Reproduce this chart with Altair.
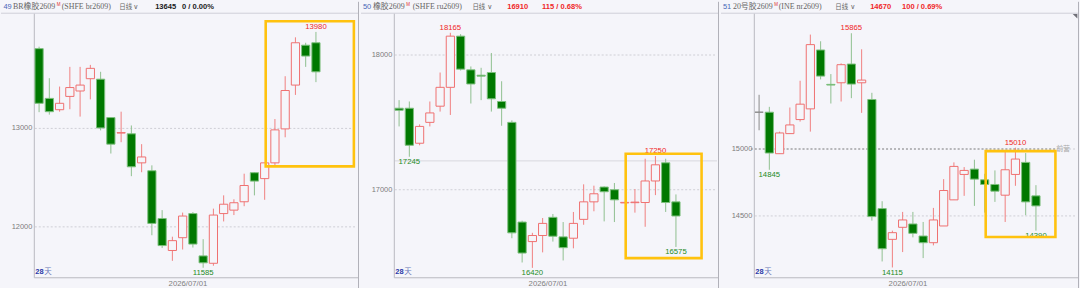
import altair as alt
import pandas as pd

# ---------------- data ----------------
# Panel 1: BR橡胶2609
p1_open  = [13810,13305,13190,13325,13380,13505,13500,13110,12953,12945,12650,12570,12085,11760,
            11890,12135,11705,11630,12135,12170,12255,12550,12490,12650,12995,13440,13845,13870]
p1_high  = [13830,13510,13425,13625,13625,13645,13575,13110,13170,13030,12840,12625,12170,11900,
            12145,12150,11875,12185,12320,12280,12540,12555,12650,13095,13530,13925,13870,13980]
p1_low   = [13165,13140,13170,13195,13120,13295,12980,12745,12860,12515,12555,11915,11785,11655,
            11770,11790,11585,11605,12055,12120,12210,12320,12275,12615,12910,13340,13625,13470]
p1_close = [13255,13170,13255,13415,13440,13610,13005,12840,12957,12610,12710,12035,11810,11860,
            12110,11825,11635,12120,12230,12245,12420,12465,12650,12985,13385,13870,13735,13575]

# Panel 2: 橡胶2609
p2_open  = [17605,17605,17345,17500,17620,17760,18140,17890,17850,17870,17655,17500,16760,16615,
            16660,16795,16650,16640,16780,16910,17020,17000,16902,16904,16905,17065,17200,16910]
p2_high  = [17665,17655,17485,17655,17870,18165,18155,17915,17905,18015,17805,17515,16770,16680,
            16790,16820,16760,16835,17040,17030,17025,17050,16910,17005,17230,17250,17230,16965]
p2_low   = [17470,17245,17330,17470,17580,17555,17885,17640,17665,17580,17475,16640,16460,16420,
            16535,16615,16475,16565,16740,16840,16765,16760,16900,16830,16725,16960,16835,16575]
p2_close = [17590,17330,17470,17570,17760,18140,17895,17785,17843,17675,17605,16680,16530,16660,
            16750,16655,16570,16750,16910,16970,16985,16925,16906,16908,17065,17185,16905,16805]

# Panel 3: 20号胶2609
p3_open  = [15275,15275,14965,15115,15220,15300,15740,15483,15495,15635,15495,15370,14555,14325,
            14415,14440,14350,14300,14425,14620,14810,14850,14770,14735,14655,14810,14900,14650]
p3_high  = [15405,15315,15130,15310,15510,15855,15805,15560,15640,15865,15745,15420,14610,14390,
            14530,14530,14455,14560,14775,14900,14865,14920,14815,14840,14985,15010,14970,14730]
p3_low   = [15140,14845,14965,15115,15205,15130,15520,15340,15355,15380,15270,14465,14160,14115,
            14230,14340,14185,14280,14425,14620,14650,14575,14525,14605,14455,14725,14505,14390]
p3_close = [15275,14970,15120,15180,15335,15780,15545,15478,15630,15485,15515,14495,14255,14375,
            14470,14370,14300,14470,14690,14870,14840,14775,14735,14685,14845,14925,14605,14575]
p3_flat = [0]  # index of the grey (no-trade) candle

# extreme-value labels: (index, value)
p1_hi_lbl = [(27, 13980)]
p1_lo_lbl = [(16, 11585)]
p2_hi_lbl = [(5, 18165), (25, 17250)]
p2_lo_lbl = [(1, 17245), (13, 16420), (27, 16575)]
p3_hi_lbl = [(9, 15865), (25, 15010)]
p3_lo_lbl = [(1, 14845), (13, 14115), (27, 14390)]

# grid values
p1_grid = [13000, 12000]
p2_grid = [18000, 17000]
p3_grid = [15000, 14500]
p2_ref = [17214]
p3_ref = [15000]

# highlight boxes: (x0, x1, y0, y1) in candle-index / price units
p1_box = (22.1, 30.7, 14089, 12614)
p2_box = (22.1, 29.5, 17267, 16492)
p3_box = (22.1, 28.9, 14984, 14342)

# y domains (price at bottom / top of panel)
p1_ydom = [11377, 14286]
p2_ydom = [16269, 18395]
p3_ydom = [13960, 16100]
X_DOM = [-3.715, 31.2]

headers = [
    dict(num="49", name="BR橡胶2609", code="(SHFE br2609)", price="13645", chg="0 / 0.00%", up=False,
         xs=dict(num=2.5, name=12, m=56, code=61, day=119, chev=133, price=155, chg=182)),
    dict(num="50", name="橡胶2609", code="(SHFE ru2609)", price="16910", chg="115 / 0.68%", up=True,
         xs=dict(num=2, name=12, m=45.5, code=52, day=112, chev=127, price=147, chg=182)),
    dict(num="51", name="20号胶2609", code="(INE nr2609)", price="14670", chg="100 / 0.69%", up=True,
         xs=dict(num=2, name=12, m=53.5, code=58, day=115, chev=130, price=150, chg=182)),
]

# ---------------- style ----------------
BG = "#F5F5FA"
UP = "#EF7070"
UP_WICK = "#F08080"
DN_FILL = "#007800"
DN_EDGE = "#7DBF7D"
DN_WICK = "#8FBF8F"
GREY = "#8A8A8A"
RED_TXT = "#F02828"
GRN_TXT = "#1E8C1E"
AXIS = "#B8B8C0"
W, H = 360, 288
SANS = "Liberation Sans, Noto Sans CJK SC"
SERIF = "Liberation Serif, Noto Sans CJK SC"

one = pd.DataFrame({"a": [0]})


def txt(s, x, y, color, size=7.5, weight="normal", font=SANS, align="left"):
    return alt.Chart(pd.DataFrame({"t": [s]})).mark_text(
        align=align, baseline="middle", fontSize=size, fontWeight=weight, font=font, color=color
    ).encode(x=alt.value(x), y=alt.value(y), text="t:N")


def vrule(x, y0, y1, color):
    return alt.Chart(one).mark_rule(color=color, strokeWidth=1).encode(
        x=alt.value(x), y=alt.value(y0), y2=alt.value(y1))


def hrule(y, x0, x1, color):
    return alt.Chart(one).mark_rule(color=color, strokeWidth=1).encode(
        y=alt.value(y), x=alt.value(x0), x2=alt.value(x1))


def pick_expr(up, down, flat):
    return f"datum.f == 1 ? '{flat}' : (datum.c >= datum.o ? '{up}' : '{down}')"


def panel(o, h, l, c, ydom, grid, hi, lo, box, hdr, ref=None, ref_dark=False, flat=(), corner=False):
    df = pd.DataFrame({"i": list(range(len(o))), "o": o, "h": h, "l": l, "c": c})
    df["f"] = [1 if k in flat else 0 for k in range(len(o))]
    xs = alt.Scale(domain=X_DOM, nice=False, zero=False)
    ys = alt.Scale(domain=ydom, nice=False, zero=False)

    layers = []
    layers.append(hrule(11.5, 0, W, "#D0D0D8"))
    gdf = pd.DataFrame({"v": grid})
    layers.append(alt.Chart(gdf).mark_rule(color="#CFCFD6", strokeDash=[2, 2], strokeWidth=1).encode(
        y=alt.Y("v:Q", scale=ys, axis=None), x=alt.value(34), x2=alt.value(358)))
    if ref:
        rdf = pd.DataFrame({"v": ref})
        if ref_dark:
            layers.append(alt.Chart(rdf).mark_rule(color="#8C8C8C", strokeDash=[2, 2], strokeWidth=1).encode(
                y=alt.Y("v:Q", scale=ys, axis=None), x=alt.value(30), x2=alt.value(337)))
            layers.append(alt.Chart(rdf.assign(t="前营")).mark_text(
                align="left", baseline="middle", fontSize=7, font=SANS, color="#A8A8A8").encode(
                y=alt.Y("v:Q", scale=ys, axis=None), x=alt.value(337), text="t:N"))
        else:
            layers.append(alt.Chart(rdf).mark_rule(color="#D8D8DE", strokeWidth=1).encode(
                y=alt.Y("v:Q", scale=ys, axis=None), x=alt.value(34), x2=alt.value(358)))
    layers.append(alt.Chart(gdf).mark_text(align="right", baseline="middle", fontSize=7.5, font=SANS,
                                           color="#7C7C7C").encode(
        y=alt.Y("v:Q", scale=ys, axis=None), x=alt.value(31.5), text=alt.Text("v:Q", format="d")))
    layers.append(vrule(33.5, 12, 277.5, AXIS))
    layers.append(hrule(277.5, 33.5, W, AXIS))
    # wicks
    layers.append(alt.Chart(df).transform_calculate(
        wc=pick_expr(UP_WICK, DN_WICK, GREY)).mark_rule(strokeWidth=1).encode(
        x=alt.X("i:Q", scale=xs, axis=None),
        y=alt.Y("l:Q", scale=ys, axis=None), y2="h:Q",
        color=alt.Color("wc:N", scale=None)))
    # bodies
    layers.append(alt.Chart(df).transform_calculate(
        x0="datum.i - 0.4", x1="datum.i + 0.4",
        b0="min(datum.o, datum.c)", b1="max(datum.o, datum.c)",
        fc=pick_expr(BG, DN_FILL, GREY), sc=pick_expr(UP, DN_EDGE, GREY)).mark_rect(strokeWidth=1).encode(
        x=alt.X("x0:Q", scale=xs, axis=None), x2="x1:Q",
        y=alt.Y("b0:Q", scale=ys, axis=None), y2="b1:Q",
        fill=alt.Fill("fc:N", scale=None),
        stroke=alt.Stroke("sc:N", scale=None)))
    # extreme labels
    hdf = pd.DataFrame({"i": [a for a, b in hi], "v": [b for a, b in hi]})
    ldf = pd.DataFrame({"i": [a for a, b in lo], "v": [b for a, b in lo]})
    layers.append(alt.Chart(hdf).mark_text(baseline="middle", dy=-5, fontSize=7.8, font=SANS,
                                           color=RED_TXT).encode(
        x=alt.X("i:Q", scale=xs, axis=None), y=alt.Y("v:Q", scale=ys, axis=None),
        text=alt.Text("v:Q", format="d")))
    layers.append(alt.Chart(ldf).mark_text(baseline="middle", dy=5.5, fontSize=7.8, font=SANS,
                                           color=GRN_TXT).encode(
        x=alt.X("i:Q", scale=xs, axis=None), y=alt.Y("v:Q", scale=ys, axis=None),
        text=alt.Text("v:Q", format="d")))
    # highlight box
    bdf = pd.DataFrame({"x0": [box[0]], "x1": [box[1]], "y0": [box[2]], "y1": [box[3]]})
    layers.append(alt.Chart(bdf).mark_rect(fillOpacity=0, stroke="#FFC20E", strokeWidth=2.6).encode(
        x=alt.X("x0:Q", scale=xs, axis=None), x2="x1:Q",
        y=alt.Y("y0:Q", scale=ys, axis=None), y2="y1:Q"))
    # bottom texts
    layers.append(txt("28", 34.5, 272, "#2B3BA8", size=7.5, weight="bold"))
    layers.append(txt("天", 43.5, 272, "#6A78B8", size=7.5))
    layers.append(txt("2026/07/01", 188, 284, "#808080", size=7.8, align="center"))
    # header
    xs_ = hdr["xs"]
    hc = RED_TXT if hdr["up"] else "#1A1A1A"
    layers.append(txt(hdr["num"], xs_["num"], 5, "#4A68B8", size=7.5))
    layers.append(txt(hdr["name"], xs_["name"], 5, "#666666", size=8, font=SERIF))
    layers.append(txt("M", xs_["m"], 3, "#E03030", size=4.5, font=SANS))
    layers.append(txt(hdr["code"], xs_["code"], 5, "#666666", size=8, font=SERIF))
    layers.append(txt("日线", xs_["day"], 5, "#666666", size=6.5))
    layers.append(txt("∨", xs_["chev"], 5, "#666666", size=7, font="DejaVu Sans"))
    layers.append(txt(hdr["price"], xs_["price"], 5, hc, size=7.6, weight="bold"))
    layers.append(txt(hdr["chg"], xs_["chg"], 5, hc, size=7.6, weight="bold"))
    if corner:
        layers.append(alt.Chart(one).mark_point(shape="M-1,-1L1,-1L1,1Z", filled=True, size=22,
                                                color="#707078", opacity=1).encode(
            x=alt.value(356), y=alt.value(14.5)))
    layers.append(vrule(359.5, 0, H, "#B0B0B8"))
    return alt.layer(*layers).properties(width=W, height=H)


p1 = panel(p1_open, p1_high, p1_low, p1_close, p1_ydom, p1_grid, p1_hi_lbl, p1_lo_lbl, p1_box, headers[0])
p2 = panel(p2_open, p2_high, p2_low, p2_close, p2_ydom, p2_grid, p2_hi_lbl, p2_lo_lbl, p2_box, headers[1],
           ref=p2_ref)
p3 = panel(p3_open, p3_high, p3_low, p3_close, p3_ydom, p3_grid, p3_hi_lbl, p3_lo_lbl, p3_box, headers[2],
           ref=p3_ref, ref_dark=True, flat=p3_flat, corner=True)

chart = alt.hconcat(p1, p2, p3, spacing=0).properties(
    padding=0, background=BG
).configure_view(stroke=None, fill=BG)

chart.save("out.html", embed_options={"renderer": "svg", "actions": False})
